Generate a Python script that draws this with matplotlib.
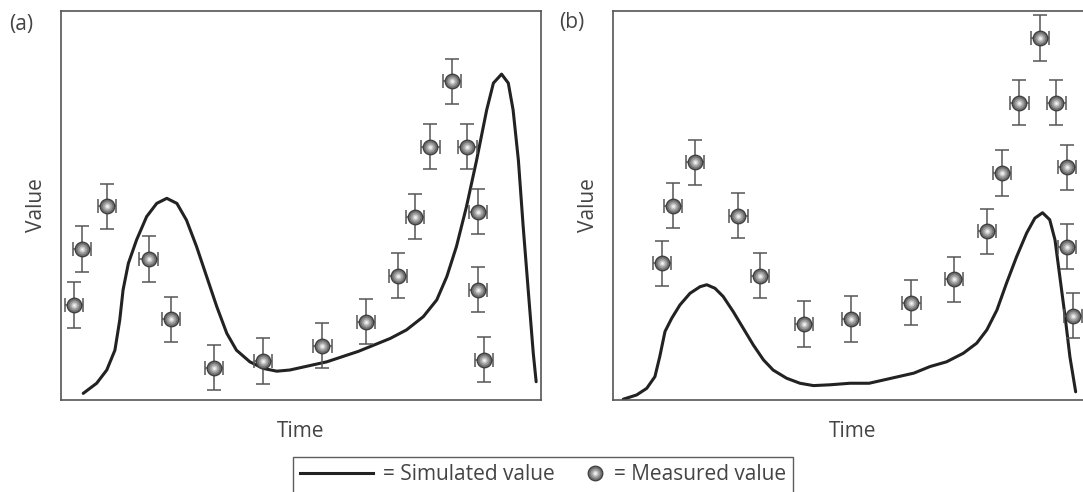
import matplotlib
matplotlib.use("Agg")
import matplotlib.pyplot as plt
from matplotlib.lines import Line2D

plt.rcParams['font.family'] = ['Open Sans', 'DejaVu Sans']

# measured points (time, value), panel a
time_a_pts = [2.8, 4.4, 9.7, 18.3, 22.9, 32.0, 42.2, 54.5, 63.6, 70.3, 73.8, 77.0, 81.5, 84.7, 86.9, 86.9, 88.1]
value_a_pts = [24.4, 38.8, 49.8, 36.2, 20.7, 8.3, 10.0, 13.9, 20.1, 31.9, 47.1, 65.1, 81.9, 65.1, 48.4, 28.3, 10.3]
# simulated curve, panel a
time_a_curve = [4.7, 7.5, 9.6, 11.3, 12.3, 13.0, 14.1, 15.8, 17.9, 20.0, 22.1, 24.2, 26.2, 28.3, 30.4,
                32.5, 34.6, 36.6, 39.4, 42.2, 45.0, 47.7, 55.4, 62.0, 68.6, 72.0, 75.5, 78.3, 80.4,
                82.4, 84.5, 86.6, 88.7, 90.1, 91.8, 93.2, 94.2, 95.3, 96.3, 97.4, 98.4, 99.0]
value_a_curve = [1.7, 4.3, 7.7, 12.8, 20.5, 28.3, 35.1, 41.1, 47.1, 50.5, 51.8, 50.5, 46.2, 39.4, 31.7,
                 24.0, 17.1, 12.8, 9.8, 8.1, 7.4, 7.7, 9.8, 12.5, 15.8, 18.0, 21.4, 25.7, 31.7,
                 39.4, 49.7, 61.6, 74.5, 81.4, 83.7, 81.4, 74.5, 61.6, 44.5, 27.4, 12.0, 4.7]

# panel b
time_b_pts = [10.2, 12.6, 17.2, 26.2, 30.6, 39.8, 49.7, 62.2, 71.0, 77.9, 81.1, 84.7, 89.0, 92.4, 94.6, 94.6, 95.9]
value_b_pts = [35.1, 49.9, 61.1, 47.3, 31.9, 19.5, 20.8, 25.0, 31.0, 43.3, 58.3, 76.4, 93.0, 76.4, 59.8, 39.4, 21.6]
time_b_curve = [2.2, 5.0, 7.1, 8.8, 9.8, 10.9, 12.3, 14.0, 16.1, 18.2, 19.6, 21.3, 23.0, 25.1, 27.2,
                29.3, 31.4, 33.4, 36.2, 39.0, 41.8, 45.2, 49.4, 53.4, 62.7, 66.1, 69.5, 73.0, 75.8,
                77.9, 80.0, 82.0, 84.1, 86.2, 87.9, 89.5, 91.0, 92.1, 93.1, 94.2, 95.2, 96.4]
value_b_curve = [0.2, 1.3, 3.0, 6.0, 11.1, 17.6, 21.0, 24.4, 27.4, 29.1, 29.6, 28.7, 26.6, 22.7, 18.4,
                 14.1, 10.3, 7.7, 5.6, 4.3, 3.7, 3.9, 4.3, 4.3, 6.9, 8.6, 9.8, 12.0, 14.6,
                 18.0, 23.1, 30.0, 36.8, 42.9, 46.7, 48.1, 46.3, 41.1, 31.7, 21.4, 11.1, 2.1]

time_err = 1.9
value_err = 5.8

# layered markers to fake a shaded sphere
sphere = [
    dict(ms=10.5, mfc='#6e6e6e', mec='#3c3c3c', mew=0.9),
    dict(ms=7.2, mfc='#999999', mec='none', mew=0),
    dict(ms=4.4, mfc='#c8c8c8', mec='none', mew=0),
    dict(ms=2.0, mfc='#f2f2f2', mec='none', mew=0),
]


class SphereHandler:
    # puts the shaded marker at the right end of the handle box
    def legend_artist(self, legend, orig_handle, fontsize, handlebox):
        x = handlebox.width - handlebox.xdescent - 0.45 * fontsize
        y = (handlebox.height - handlebox.ydescent) / 2.0
        for st in sphere:
            art = Line2D([x], [y], marker='o', ls='none', **st)
            handlebox.add_artist(art)
        return art


fig = plt.figure(figsize=(10.83, 4.92), dpi=100)
ax_a = fig.add_axes([0.0560, 0.187, 0.4435, 0.7913])
ax_b = fig.add_axes([0.5657, 0.187, 0.4435, 0.7913])

panels = [
    (ax_a, time_a_pts, value_a_pts, time_a_curve, value_a_curve),
    (ax_b, time_b_pts, value_b_pts, time_b_curve, value_b_curve),
]
for ax, tp, vp, tc, vc in panels:
    ax.plot(tc, vc, color='#222222', lw=2.2, solid_capstyle='round', solid_joinstyle='round', zorder=2)
    ax.errorbar(tp, vp, xerr=time_err, yerr=value_err, fmt='none', ecolor='#555555',
                elinewidth=1.1, capsize=4.7, capthick=1.1, zorder=3)
    for st in sphere:
        ax.plot(tp, vp, 'o', ls='none', zorder=4, **st)
    ax.set_xlim(0, 100)
    ax.set_ylim(0, 100)
    ax.set_xticks([])
    ax.set_yticks([])
    for s in ax.spines.values():
        s.set_color('#555555')
        s.set_linewidth(1.2)
    ax.set_xlabel('Time', fontsize=15, color='#444444', labelpad=15)
    ax.set_ylabel('Value', fontsize=15, color='#444444', labelpad=10)

fig.text(9 / 1083, 1 - 14 / 492, '(a)', fontsize=15, color='#444444', ha='left', va='top')
fig.text(559 / 1083, 1 - 12 / 492, '(b)', fontsize=15, color='#444444', ha='left', va='top')

line_h = Line2D([], [], color='#222222', lw=2.2)
sphere_h = Line2D([], [], marker='o', ls='none')
leg = fig.legend([line_h, sphere_h], ['= Simulated value', '= Measured value'],
                 loc='upper center', bbox_to_anchor=(543 / 1083, 1 - 457 / 492),
                 ncol=2, fontsize=15, frameon=True, fancybox=False, handlelength=3.5,
                 columnspacing=-1.1, handletextpad=0.45, borderpad=0.35, borderaxespad=0,
                 handler_map={sphere_h: SphereHandler()})
leg.get_frame().set_edgecolor('#333333')
leg.get_frame().set_linewidth(1.0)
for t in leg.get_texts():
    t.set_color('#444444')

fig.savefig('out.png', dpi=100)
